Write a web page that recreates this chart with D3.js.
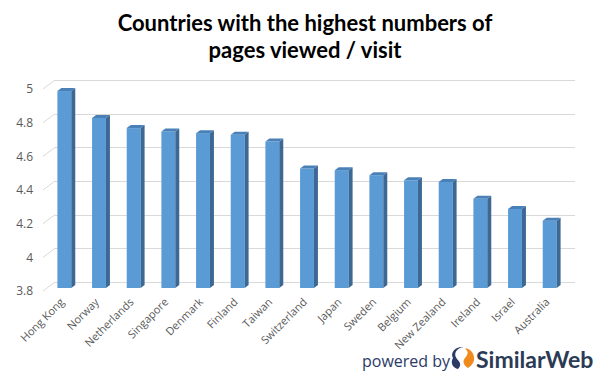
<!DOCTYPE html>
<html>
<head>
<meta charset="utf-8">
<script src="https://cdn.jsdelivr.net/npm/d3@7"></script>
<style>
  body { margin: 0; background: #fff; }
  svg { display: block; }
</style>
</head>
<body>
<svg id="chart" width="609" height="373"></svg>
<script>
const countries = ["Hong Kong", "Norway", "Netherlands", "Singapore", "Denmark", "Finland", "Taiwan",
  "Switzerland", "Japan", "Sweden", "Belgium", "New Zealand", "Ireland", "Israel", "Australia"];
const pagesPerVisit = [4.97, 4.81, 4.75, 4.73, 4.72, 4.71, 4.67, 4.51, 4.50, 4.47, 4.44, 4.43, 4.33, 4.27, 4.20];
const yTicks = [3.8, 4, 4.2, 4.4, 4.6, 4.8, 5];
const titleLines = ["Countries with the highest numbers of", "pages viewed / visit"];

let svg = d3.select("#chart");

// 3d depth: offset of the back wall from the front plane
const depthX = 12, depthY = -9;
const left = 43, right = 563;

// front plane y scale
let yScale = d3.scaleLinear().domain([3.8, 5]).range([291, 89]);

let xScale = d3.scaleBand()
  .domain(countries)
  .range([left, right])
  .paddingInner(0.6)
  .paddingOuter(0.3);

// title
svg.append("g")
  .selectAll("text")
  .data(titleLines)
  .enter()
  .append("text")
  .attr("x", 305)
  .attr("y", (d, i) => 31 + i * 27)
  .attr("text-anchor", "middle")
  .style("font-family", "Lato, 'Open Sans', sans-serif")
  .style("font-weight", "bold")
  .style("font-size", "22px")
  .attr("fill", "#000")
  .text(d => d);

// gridlines: back wall + slanted part on the left
let grid = svg.append("g").attr("stroke", "#d9d9d9").attr("stroke-width", 1).attr("fill", "none");
grid.selectAll(".back")
  .data(yTicks)
  .enter()
  .append("line")
  .attr("x1", left + depthX)
  .attr("x2", right + depthX)
  .attr("y1", d => Math.round(yScale(d) + depthY) + 0.5)
  .attr("y2", d => Math.round(yScale(d) + depthY) + 0.5);
grid.selectAll(".slant")
  .data(yTicks)
  .enter()
  .append("line")
  .attr("x1", left)
  .attr("x2", left + depthX)
  .attr("y1", d => yScale(d))
  .attr("y2", d => yScale(d) + depthY);

// y labels
svg.append("g")
  .selectAll("text")
  .data(yTicks)
  .enter()
  .append("text")
  .attr("x", 33)
  .attr("y", d => yScale(d))
  .attr("dy", "0.35em")
  .attr("text-anchor", "end")
  .style("font-family", "'Open Sans', sans-serif")
  .style("font-size", "12px")
  .attr("fill", "#595959")
  .text(d => d);

// bars (front face a third of the way into the depth)
const bx = depthX / 3, by = depthY / 3;
const w = xScale.bandwidth();
let bars = svg.append("g")
  .selectAll("g")
  .data(countries.map((c, i) => ({ name: c, value: pagesPerVisit[i] })))
  .enter()
  .append("g");

bars.append("rect")
  .attr("x", d => xScale(d.name) + bx)
  .attr("y", d => yScale(d.value) + by)
  .attr("width", w)
  .attr("height", d => yScale(3.8) - yScale(d.value))
  .attr("fill", "#5b9bd5");

// side face
bars.append("path")
  .attr("fill", "#3b6894")
  .attr("d", d => {
    let x = xScale(d.name) + bx + w, yt = yScale(d.value) + by, yb = yScale(3.8) + by;
    return `M${x},${yt}L${x + bx},${yt + by}L${x + bx},${yb + by}L${x},${yb}Z`;
  });

// top face
bars.append("path")
  .attr("fill", "#4a80b8")
  .attr("d", d => {
    let x = xScale(d.name) + bx, yt = yScale(d.value) + by;
    return `M${x},${yt}L${x + w},${yt}L${x + w + bx},${yt + by}L${x + bx},${yt + by}Z`;
  });

// x labels
svg.append("g")
  .selectAll("text")
  .data(countries)
  .enter()
  .append("text")
  .attr("transform", d => `translate(${xScale(d) + w / 2 + 2},300) rotate(-45)`)
  .attr("text-anchor", "end")
  .attr("dy", "0.35em")
  .style("font-family", "'Open Sans', sans-serif")
  .style("font-size", "11px")
  .attr("fill", "#595959")
  .text(d => d);

// powered by SimilarWeb
let logo = svg.append("g");
logo.append("text")
  .attr("x", 362).attr("y", 367)
  .style("font-family", "'Open Sans', sans-serif")
  .style("font-size", "16px")
  .attr("fill", "#2b3a67")
  .text("powered by");
logo.append("path")
  .attr("fill", "#2b3a67")
  .attr("d", "M464,347 C456,348 453,354 457,359 C460,362 462,365 458,369 C453,368 450,363 453,358 C450,353 455,346 464,347Z");
logo.append("path")
  .attr("fill", "#f08a1c")
  .attr("d", "M465,349 C469,351 468,355 465,358 C462,361 464,366 468,368 C475,364 476,356 471,351 C469,349 467,348 465,349Z");
logo.append("text")
  .attr("x", 476).attr("y", 368)
  .style("font-family", "Lato, 'Open Sans', sans-serif")
  .style("font-weight", "bold")
  .style("font-size", "23px")
  .attr("fill", "#2b3a55")
  .text("SimilarWeb");
</script>
</body>
</html>
